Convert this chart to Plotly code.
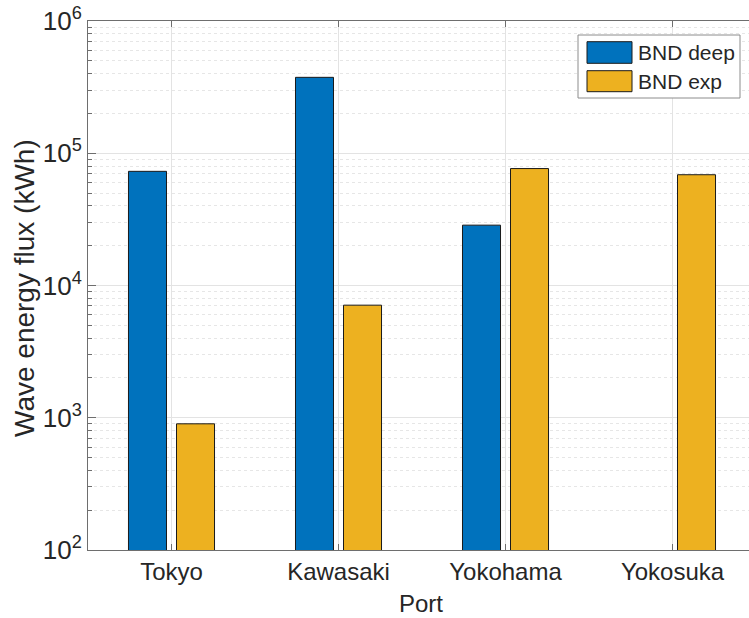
import plotly.graph_objects as go

ports = ["Tokyo", "Kawasaki", "Yokohama", "Yokosuka"]
bnd_deep = [73000, 375000, 28600, None]
bnd_exp = [900, 7100, 76600, 68800]
series_names = ["BND deep", "BND exp"]
series_colors = ["#0072BD", "#EDB120"]
ytick_vals = [1e2, 1e3, 1e4, 1e5, 1e6]
ytick_text = ["10<sup>2</sup>", "10<sup>3</sup>", "10<sup>4</sup>", "10<sup>5</sup>", "10<sup>6</sup>"]

W, H = 749, 618
L, T, B = 88, 21, 550
R = 749
FONT = "Liberation Sans, Arial, Helvetica, sans-serif"
TXT = "#262626"

xpos = [1, 2, 3, 4]

fig = go.Figure()
for name, vals, col in zip(series_names, [bnd_deep, bnd_exp], series_colors):
    fig.add_trace(go.Bar(x=xpos, y=vals, name=name, marker=dict(color=col, line=dict(color="#1a1a1a", width=1)),
                         showlegend=False))

def px(x):
    return (x - L) / (R - L)

def py(y):
    return (B - y) / (B - T)

shapes = []
annotations = []
# legend box
shapes.append(dict(type="rect", xref="paper", yref="paper", x0=px(578), x1=px(740), y0=py(98), y1=py(35),
                   line=dict(color="#8c8c8c", width=1), fillcolor="white", layer="above"))
sw = [(41.7, 63.3), (70.7, 91.7)]
for (y0, y1), col, name in zip(sw, series_colors, series_names):
    shapes.append(dict(type="rect", xref="paper", yref="paper", x0=px(587), x1=px(632), y0=py(y1), y1=py(y0),
                       line=dict(color="#1a1a1a", width=1), fillcolor=col, layer="above"))
    annotations.append(dict(xref="paper", yref="paper", x=px(636), y=py((y0 + y1) / 2), text=name, showarrow=False,
                            xanchor="left", yanchor="middle", font=dict(family=FONT, size=21, color=TXT)))

# axis titles
annotations.append(dict(xref="paper", yref="paper", x=px(421), y=py(603), text="Port", showarrow=False,
                        xanchor="center", yanchor="middle", font=dict(family=FONT, size=24, color=TXT)))
annotations.append(dict(xref="paper", yref="paper", x=px(25), y=py(288), text="Wave energy flux (kWh)", showarrow=False,
                        textangle=-90, xanchor="center", yanchor="middle", font=dict(family=FONT, size=28, color=TXT)))

fig.update_layout(
    width=W, height=H,
    margin=dict(l=L, r=W - R, t=T, b=H - B, pad=0),
    paper_bgcolor="white", plot_bgcolor="white",
    barmode="group", bargap=0.425, bargroupgap=0.208,
    shapes=shapes, annotations=annotations,
    font=dict(family=FONT, color=TXT),
    showlegend=False,
)
fig.update_xaxes(
    range=[0.5, 4.458], tickmode="array", tickvals=xpos, ticktext=ports,
    showgrid=True, gridcolor="#e3e3e3", gridwidth=1,
    showline=True, linecolor="#6e6e6e", linewidth=1, mirror="ticks",
    ticks="inside", ticklen=6, tickcolor="#6e6e6e",
    tickfont=dict(family=FONT, size=24, color=TXT), zeroline=False,
)
fig.update_yaxes(
    type="log", range=[2, 6], tickmode="array", tickvals=ytick_vals, ticktext=ytick_text,
    showgrid=True, gridcolor="#e3e3e3", gridwidth=1,
    showline=True, linecolor="#6e6e6e", linewidth=1, mirror=False,
    ticks="inside", ticklen=8, tickcolor="#6e6e6e",
    tickfont=dict(family=FONT, size=26, color=TXT), zeroline=False,
    minor=dict(dtick="D1", showgrid=True, gridcolor="#e6e6e6", griddash="dot", ticks="inside", ticklen=4,
               tickcolor="#6e6e6e"),
)

fig.write_html("out.html")
